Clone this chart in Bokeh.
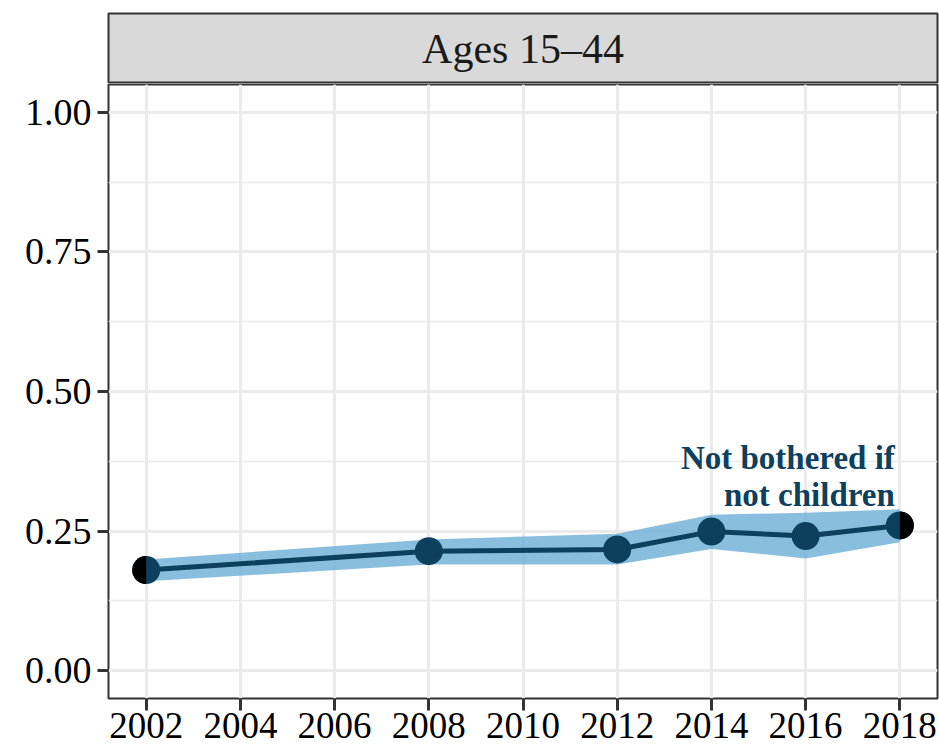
import math
from bokeh.plotting import figure
from bokeh.layouts import column
from bokeh.models import Range1d, FixedTicker, NumeralTickFormatter
from bokeh.core.properties import value
from bokeh.embed import file_html
from bokeh.resources import INLINE

# ---- data ----
years = [2002, 2008, 2012, 2014, 2016, 2018]
share = [0.180, 0.214, 0.217, 0.249, 0.241, 0.260]
lower = [0.160, 0.190, 0.190, 0.218, 0.201, 0.230]
upper = [0.199, 0.235, 0.245, 0.279, 0.283, 0.289]
x_ticks = [2002, 2004, 2006, 2008, 2010, 2012, 2014, 2016, 2018]
y_ticks = [0.0, 0.25, 0.5, 0.75, 1.0]
panel_title = "Ages 15–44"
series_label = ["Not bothered if", "not children"]

DARK = "#0d405e"
RIBBON = "#6baed6"
FONT = "Liberation Serif"

W = 939
xr = Range1d(2001.2, 2018.8)

# ---- facet strip ----
strip = figure(width=W, height=83, x_range=xr, y_range=Range1d(0, 1),
               toolbar_location=None, output_backend="svg",
               x_axis_type=None, y_axis_type=None,
               min_border_left=108, min_border_right=2,
               min_border_top=13, min_border_bottom=0)
strip.grid.visible = False
strip.background_fill_color = "#d9d9d9"
strip.border_fill_color = "white"
strip.outline_line_color = "#333333"
strip.outline_line_width = 2
strip.text(x=[(xr.start + xr.end) / 2], y=[0.5], text=[panel_title],
           text_font=value(FONT), text_font_size="42px", text_color="#1a1a1a",
           text_align="center", text_baseline="middle")

# ---- main panel ----
p = figure(width=W, height=667, x_range=xr, y_range=Range1d(-0.05, 1.05),
           toolbar_location=None, output_backend="svg",
           min_border_left=108, min_border_right=2,
           min_border_top=1, min_border_bottom=52)
p.background_fill_color = "white"
p.border_fill_color = "white"
p.outline_line_color = "#333333"
p.outline_line_width = 2

minor_y = [(a + b) / 2 for a, b in zip(y_ticks[:-1], y_ticks[1:])]
p.xaxis.ticker = FixedTicker(ticks=x_ticks)
p.yaxis.ticker = FixedTicker(ticks=y_ticks, minor_ticks=minor_y)
p.yaxis.formatter = NumeralTickFormatter(format="0.00")

p.xgrid.grid_line_color = "#ebebeb"
p.xgrid.grid_line_width = 3
p.ygrid.grid_line_color = "#ebebeb"
p.ygrid.grid_line_width = 3
p.ygrid.minor_grid_line_color = "#ebebeb"
p.ygrid.minor_grid_line_width = 1.6

for ax in (p.xaxis[0], p.yaxis[0]):
    ax.axis_line_color = None
    ax.major_tick_line_color = "#333333"
    ax.major_tick_line_width = 3
    ax.major_tick_in = 0
    ax.minor_tick_line_color = None
    ax.major_label_text_font = FONT
    ax.major_label_text_color = "black"

p.xaxis.major_tick_out = 12
p.xaxis.major_label_standoff = 2
p.xaxis.major_label_text_font_size = "37px"
p.yaxis.major_tick_out = 11
p.yaxis.major_label_standoff = 6
p.yaxis.major_label_text_font_size = "38px"

# ribbon, line, points
p.varea(x=years, y1=lower, y2=upper, fill_color=RIBBON, fill_alpha=0.8)
p.line(x=years, y=share, line_color=DARK, line_width=5)
p.scatter(x=years, y=share, size=28, fill_color=DARK, line_color=None)

# black outer halves at the ends
p.wedge(x=[years[0]], y=[share[0]], radius=14, radius_units="screen",
        start_angle=math.pi / 2, end_angle=3 * math.pi / 2,
        fill_color="black", line_color=None)
p.wedge(x=[years[-1]], y=[share[-1]], radius=14, radius_units="screen",
        start_angle=-math.pi / 2, end_angle=math.pi / 2,
        fill_color="black", line_color=None)

# series label
p.text(x=[years[-1], years[-1]], y=[share[-1], share[-1]], text=series_label,
       x_offset=-5, y_offset=[-67, -30],
       text_font=value(FONT), text_font_size="33px", text_font_style="bold",
       text_color=DARK, text_align="right", text_baseline="alphabetic")

layout = column(strip, p, spacing=0)
open("out.html", "w").write(file_html(layout, INLINE))
